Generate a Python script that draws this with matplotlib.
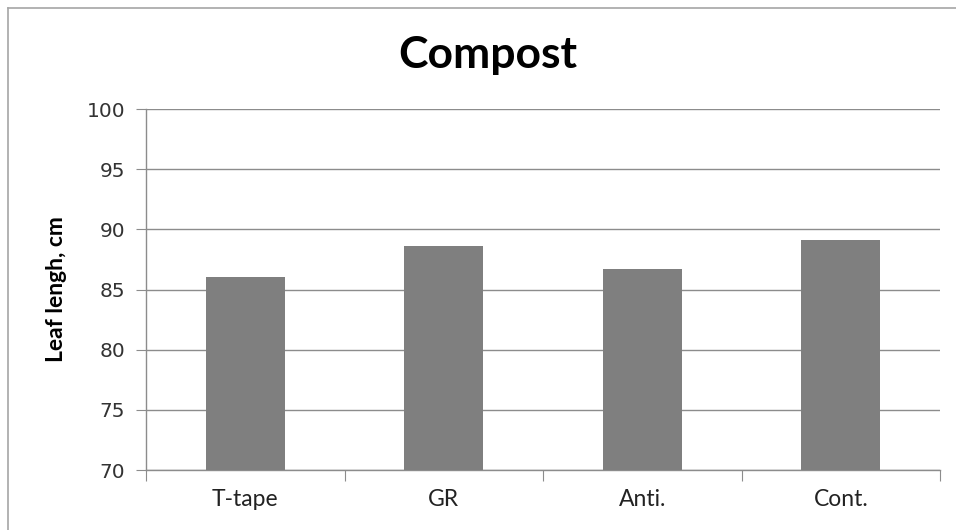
import matplotlib.pyplot as plt
from matplotlib.lines import Line2D

categories = ['T-tape', 'GR', 'Anti.', 'Cont.']
leaf_length = [86.0, 88.6, 86.7, 89.1]
y_ticks = [70, 75, 80, 85, 90, 95, 100]

grid_color = '#8c8c8c'

fig = plt.figure(figsize=(9.56, 5.30), dpi=100)
ax = fig.add_axes([146 / 956, 1 - 470 / 530, 794 / 956, 361 / 530])

x = range(len(categories))
ax.bar(x, leaf_length, width=0.4, color='#7f7f7f', zorder=3)

ax.set_ylim(70, 100)
ax.set_xlim(-0.5, len(categories) - 0.5)
ax.set_yticks(y_ticks)
ax.set_yticklabels([str(t) for t in y_ticks], family='DejaVu Sans', fontsize=14.5, color='#333333')
ax.yaxis.grid(True, color=grid_color, linewidth=1, zorder=0)

# category labels sit between the boundary ticks
ax.set_xticks([i - 0.5 for i in range(len(categories) + 1)])
ax.set_xticklabels([])
ax.set_xticks(list(x), minor=True)
ax.set_xticklabels(categories, minor=True, family='Lato', fontsize=16.5, color='#222222')
ax.tick_params(axis='x', which='minor', length=0, pad=14)
ax.tick_params(axis='x', which='major', length=8, color=grid_color, direction='out')
ax.tick_params(axis='y', length=7, color=grid_color, direction='out', pad=8)

for side in ['top', 'right']:
    ax.spines[side].set_visible(False)
for side in ['left', 'bottom']:
    ax.spines[side].set_color(grid_color)
    ax.spines[side].set_linewidth(1)

ax.set_ylabel('Leaf lengh, cm', family='Lato', fontweight='bold', fontsize=16.5)
ax.yaxis.set_label_coords((67 - 146) / 794, 0.5)

fig.text(488 / 956, 1 - 55 / 530, 'Compost', family='Lato', fontweight='bold',
         fontsize=32, ha='center', va='center')

# chart area border
fig.add_artist(Line2D([8 / 956, 8 / 956], [0, 1 - 8 / 530], transform=fig.transFigure,
                      color='#a6a6a6', linewidth=1.2))
fig.add_artist(Line2D([8 / 956, 1], [1 - 8 / 530, 1 - 8 / 530], transform=fig.transFigure,
                      color='#a6a6a6', linewidth=1.2))

fig.savefig('out.png', dpi=100)
